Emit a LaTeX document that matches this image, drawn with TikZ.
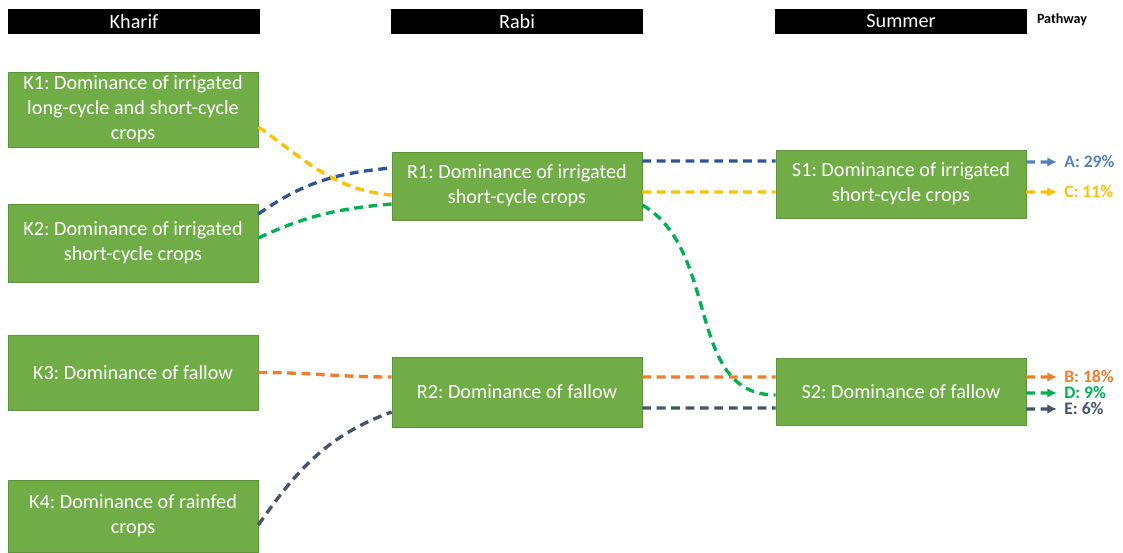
\documentclass[tikz,border=0pt]{standalone}
\usepackage{fontspec}
\setmainfont{Carlito}
\frenchspacing
\usetikzlibrary{arrows.meta}
\definecolor{boxgreen}{RGB}{112,173,71}
\definecolor{pathblue}{RGB}{47,85,151}
\definecolor{pathsteel}{RGB}{84,130,186}
\definecolor{pathyellow}{RGB}{255,192,0}
\definecolor{pathorange}{RGB}{237,125,49}
\definecolor{pathgreen}{RGB}{0,176,80}
\definecolor{pathslate}{RGB}{68,84,106}
\tikzset{
    season/.style={
        fill=black, text=white, inner sep=0pt,
        minimum width=5.04cm, minimum height=0.5cm,
        font=\fontsize{11.5}{13}\selectfont
    },
    state/.style={
        fill=boxgreen, draw=boxgreen!85!black, line width=0.4pt,
        text=white, align=center, inner sep=0pt, minimum width=5cm,
        font=\fontsize{11.5}{14.2}\selectfont
    },
    flow/.style={
        dash pattern=on 5pt off 3.2pt, line width=1.9pt
    },
    exitarrow/.style={
        flow, -{Latex[length=5.5pt,width=5.5pt]}
    },
    share/.style={
        anchor=west, inner sep=0pt,
        font=\bfseries\fontsize{10}{11}\selectfont
    }
}

\begin{document}
\begin{tikzpicture}[x=0.02cm,y=-0.02cm]

% --- canvas (pixel grid of the reference) ---
    \useasboundingbox (0,0) rectangle (1123,553);

% season headers
    \node[season] (kharif) at (134,21.5) {Kharif};
    \node[season] (rabi)   at (517,21.5) {Rabi};
    \node[season] (summer) at (901,21.5) {Summer};
    \node[font=\bfseries\fontsize{8}{9}\selectfont] (pathway) at (1062,20) {Pathway};

% kharif states
    \node[state, minimum height=1.5cm]  (K1) at (133,109.5) {K1: Dominance of irrigated\\long-cycle and short-cycle\\crops};
    \node[state, minimum height=1.56cm] (K2) at (133,243)   {K2: Dominance of irrigated\\short-cycle crops};
    \node[state, minimum height=1.5cm]  (K3) at (133,372.5) {K3: Dominance of fallow};
    \node[state, minimum height=1.44cm] (K4) at (133,516)   {K4: Dominance of rainfed\\crops};

% rabi states
    \node[state, minimum height=1.36cm] (R1) at (517,186) {R1: Dominance of irrigated\\short-cycle crops};
    \node[state, minimum height=1.4cm]  (R2) at (517,392) {R2: Dominance of fallow};

% summer states
    \node[state, minimum height=1.36cm] (S1) at (901,184)   {S1: Dominance of irrigated\\short-cycle crops};
    \node[state, minimum height=1.34cm] (S2) at (901,391.5) {S2: Dominance of fallow};

% kharif -> rabi
    \draw[flow, pathyellow] ([yshift=-0.35cm]K1.east) to[out=-35,in=175] ([yshift=-0.18cm]R1.west);
    \draw[flow, pathblue]   ([yshift=0.58cm]K2.east)  to[out=35,in=185]  ([yshift=0.36cm]R1.west);
    \draw[flow, pathgreen]  ([yshift=0.1cm]K2.east)   to[out=25,in=185]  ([yshift=-0.36cm]R1.west);
    \draw[flow, pathorange] (K3.east) to[out=0,in=180] ([yshift=0.3cm]R2.west);
    \draw[flow, pathslate]  ([yshift=-0.18cm]K4.east) to[out=55,in=200] ([yshift=-0.4cm]R2.west);

% rabi -> summer
    \draw[flow, pathblue]   ([yshift=0.5cm]R1.east)   -- ([yshift=0.46cm]S1.west);
    \draw[flow, pathyellow] ([yshift=-0.12cm]R1.east) -- ([yshift=-0.16cm]S1.west);
    \draw[flow, pathgreen]  ([yshift=-0.38cm]R1.east) to[out=-30,in=180] ([yshift=-0.07cm]S2.west);
    \draw[flow, pathorange] ([yshift=0.3cm]R2.east)   -- ([yshift=0.29cm]S2.west);
    \draw[flow, pathslate]  ([yshift=-0.32cm]R2.east) -- ([yshift=-0.33cm]S2.west);

% pathway shares
    \node[share, text=pathsteel]  (labA) at (1064,162) {A: 29\%};
    \node[share, text=pathyellow] (labC) at (1064,192) {C: 11\%};
    \node[share, text=pathorange] (labB) at (1064,377) {B: 18\%};
    \node[share, text=pathgreen]  (labD) at (1064,393) {D: 9\%};
    \node[share, text=pathslate]  (labE) at (1064,409) {E: 6\%};

    \draw[exitarrow, pathsteel]  ([yshift=0.44cm]S1.east)  -- ([xshift=-4pt]labA.west);
    \draw[exitarrow, pathyellow] ([yshift=-0.16cm]S1.east) -- ([xshift=-4pt]labC.west);
    \draw[exitarrow, pathorange] ([yshift=0.29cm]S2.east)  -- ([xshift=-4pt]labB.west);
    \draw[exitarrow, pathgreen]  ([yshift=-0.03cm]S2.east) -- ([xshift=-4pt]labD.west);
    \draw[exitarrow, pathslate]  ([yshift=-0.35cm]S2.east) -- ([xshift=-4pt]labE.west);

  \end{tikzpicture}
\end{document}
